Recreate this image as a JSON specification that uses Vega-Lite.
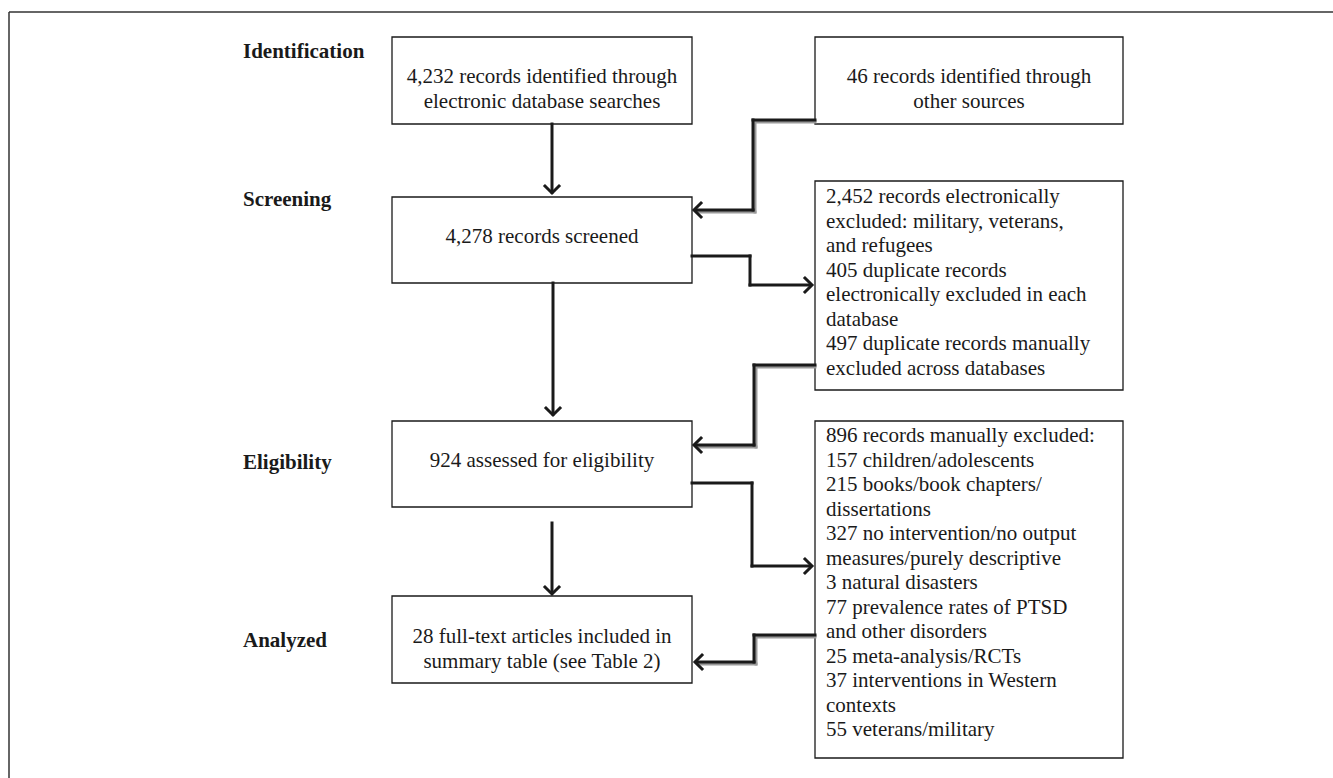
{
  "$schema": "https://vega.github.io/schema/vega-lite/v6.json",
  "width": 1333,
  "height": 778,
  "padding": 0,
  "autosize": "none",
  "background": "white",
  "config": {"view": {"stroke": null}},
  "datasets": {
    "frame": [
      {"x": 9, "y": 12, "x2": 1333, "y2": 12},
      {"x": 9, "y": 12, "x2": 9, "y2": 778}
    ],
    "boxes": [
      {"id": "db", "x": 392, "x2": 692, "y": 37, "y2": 124},
      {"id": "other", "x": 815, "x2": 1123, "y": 37, "y2": 124},
      {"id": "screened", "x": 392, "x2": 692, "y": 197, "y2": 283},
      {"id": "excl1", "x": 815, "x2": 1123, "y": 181, "y2": 390},
      {"id": "elig", "x": 392, "x2": 692, "y": 421, "y2": 507},
      {"id": "excl2", "x": 815, "x2": 1123, "y": 421, "y2": 758},
      {"id": "included", "x": 392, "x2": 692, "y": 596, "y2": 683}
    ],
    "shadow": [
      {"x": 815, "y": 122, "x2": 755, "y2": 122},
      {"x": 755, "y": 122, "x2": 755, "y2": 212},
      {"x": 755, "y": 212, "x2": 698, "y2": 212},
      {"x": 815, "y": 367, "x2": 756, "y2": 367},
      {"x": 756, "y": 367, "x2": 756, "y2": 447},
      {"x": 756, "y": 447, "x2": 698, "y2": 447},
      {"x": 815, "y": 637, "x2": 756, "y2": 637},
      {"x": 756, "y": 637, "x2": 756, "y2": 664},
      {"x": 756, "y": 664, "x2": 699, "y2": 664}
    ],
    "segments": [
      {"x": 552, "y": 124, "x2": 552, "y2": 192},
      {"x": 815, "y": 120, "x2": 753, "y2": 120},
      {"x": 753, "y": 120, "x2": 753, "y2": 210},
      {"x": 753, "y": 210, "x2": 696, "y2": 210},
      {"x": 692, "y": 256, "x2": 750, "y2": 256},
      {"x": 750, "y": 256, "x2": 750, "y2": 285},
      {"x": 750, "y": 285, "x2": 810, "y2": 285},
      {"x": 553, "y": 283, "x2": 553, "y2": 414},
      {"x": 815, "y": 365, "x2": 754, "y2": 365},
      {"x": 754, "y": 365, "x2": 754, "y2": 445},
      {"x": 754, "y": 445, "x2": 696, "y2": 445},
      {"x": 692, "y": 483, "x2": 752, "y2": 483},
      {"x": 752, "y": 483, "x2": 752, "y2": 566},
      {"x": 752, "y": 566, "x2": 810, "y2": 566},
      {"x": 552, "y": 523, "x2": 552, "y2": 592},
      {"x": 815, "y": 635, "x2": 754, "y2": 635},
      {"x": 754, "y": 635, "x2": 754, "y2": 662},
      {"x": 754, "y": 662, "x2": 697, "y2": 662}
    ],
    "arrows": [
      {"x": 552, "y": 193, "angle": 0},
      {"x": 694, "y": 210, "angle": 90},
      {"x": 812, "y": 285, "angle": 270},
      {"x": 553, "y": 415, "angle": 0},
      {"x": 694, "y": 445, "angle": 90},
      {"x": 812, "y": 566, "angle": 270},
      {"x": 552, "y": 594, "angle": 0},
      {"x": 695, "y": 662, "angle": 90}
    ],
    "labels": [
      {"x": 243, "y": 52, "text": "Identification"},
      {"x": 243, "y": 200, "text": "Screening"},
      {"x": 243, "y": 463, "text": "Eligibility"},
      {"x": 243, "y": 641, "text": "Analyzed"}
    ],
    "centered": [
      {"x": 542, "y": 77, "text": "4,232 records identified through|electronic database searches"},
      {"x": 969, "y": 77, "text": "46 records identified through|other sources"},
      {"x": 542, "y": 237, "text": "4,278 records screened"},
      {"x": 542, "y": 461, "text": "924 assessed for eligibility"},
      {"x": 542, "y": 637, "text": "28 full-text articles included in|summary table (see Table 2)"}
    ],
    "lefttext": [
      {"x": 826, "y": 197, "text": "2,452 records electronically|excluded: military, veterans,|and refugees|405 duplicate records|electronically excluded in each|database|497 duplicate records manually|excluded across databases"},
      {"x": 826, "y": 436, "text": "896 records manually excluded:|157 children/adolescents|215 books/book chapters/|dissertations|327 no intervention/no output|measures/purely descriptive|3 natural disasters|77 prevalence rates of PTSD|and other disorders|25 meta-analysis/RCTs|37 interventions in Western|contexts|55 veterans/military"}
    ]
  },
  "layer": [
    {
      "data": {"name": "frame"},
      "mark": {"type": "rule", "color": "#333333", "strokeWidth": 1.5},
      "encoding": {
        "x": {"field": "x", "type": "quantitative", "scale": {"domain": [0, 1333], "nice": false, "zero": false}, "axis": null},
        "y": {"field": "y", "type": "quantitative", "scale": {"domain": [0, 778], "nice": false, "zero": false, "reverse": true}, "axis": null},
        "x2": {"field": "x2"},
        "y2": {"field": "y2"}
      }
    },
    {
      "data": {"name": "boxes"},
      "mark": {"type": "rect", "fill": "white", "stroke": "#1a1a1a", "strokeWidth": 1.3},
      "encoding": {
        "x": {"field": "x", "type": "quantitative", "axis": null},
        "x2": {"field": "x2"},
        "y": {"field": "y", "type": "quantitative", "axis": null},
        "y2": {"field": "y2"}
      }
    },
    {
      "data": {"name": "shadow"},
      "mark": {"type": "rule", "color": "#9a9a9a", "strokeWidth": 3, "strokeCap": "square"},
      "encoding": {
        "x": {"field": "x", "type": "quantitative", "axis": null},
        "x2": {"field": "x2"},
        "y": {"field": "y", "type": "quantitative", "axis": null},
        "y2": {"field": "y2"}
      }
    },
    {
      "data": {"name": "segments"},
      "mark": {"type": "rule", "color": "#1a1a1a", "strokeWidth": 3, "strokeCap": "square"},
      "encoding": {
        "x": {"field": "x", "type": "quantitative", "axis": null},
        "x2": {"field": "x2"},
        "y": {"field": "y", "type": "quantitative", "axis": null},
        "y2": {"field": "y2"}
      }
    },
    {
      "data": {"name": "arrows"},
      "mark": {"type": "point", "shape": "M-1,-1L0,0L1,-1", "filled": false, "size": 260, "color": "#1a1a1a", "strokeWidth": 3, "opacity": 1},
      "encoding": {
        "x": {"field": "x", "type": "quantitative", "axis": null},
        "y": {"field": "y", "type": "quantitative", "axis": null},
        "angle": {"field": "angle", "type": "quantitative", "scale": null}
      }
    },
    {
      "data": {"name": "labels"},
      "mark": {"type": "text", "font": "Liberation Serif", "fontSize": 21, "fontWeight": "bold", "align": "left", "baseline": "middle", "color": "#1a1a1a"},
      "encoding": {
        "x": {"field": "x", "type": "quantitative", "axis": null},
        "y": {"field": "y", "type": "quantitative", "axis": null},
        "text": {"field": "text"}
      }
    },
    {
      "data": {"name": "centered"},
      "mark": {"type": "text", "font": "Liberation Serif", "fontSize": 21, "align": "center", "baseline": "middle", "lineBreak": "|", "lineHeight": 24.5, "color": "#1a1a1a"},
      "encoding": {
        "x": {"field": "x", "type": "quantitative", "axis": null},
        "y": {"field": "y", "type": "quantitative", "axis": null},
        "text": {"field": "text"}
      }
    },
    {
      "data": {"name": "lefttext"},
      "mark": {"type": "text", "font": "Liberation Serif", "fontSize": 21, "align": "left", "baseline": "middle", "lineBreak": "|", "lineHeight": 24.5, "color": "#1a1a1a"},
      "encoding": {
        "x": {"field": "x", "type": "quantitative", "axis": null},
        "y": {"field": "y", "type": "quantitative", "axis": null},
        "text": {"field": "text"}
      }
    }
  ]
}
